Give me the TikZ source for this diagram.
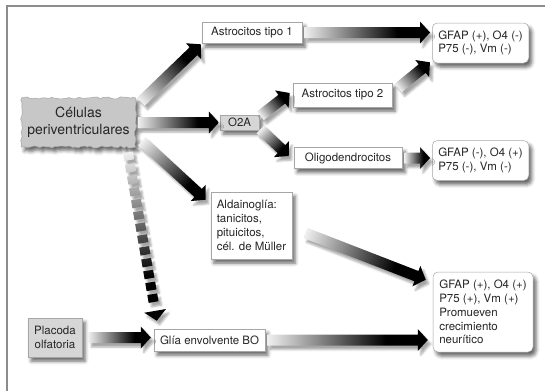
\documentclass[tikz,border=0pt]{standalone}
\usepackage{fontspec}
\setmainfont{TeX Gyre Heros}
\usetikzlibrary{positioning, shadows.blur, decorations.pathmorphing}

% fading shading of the thick arrows
\pgfdeclarehorizontalshading{arrowfade}{100bp}{color(0bp)=(black!6); color(25bp)=(black!6); color(62bp)=(black); color(100bp)=(black)}

% angle, length, shadow offset and dash count of an arrow from #1 to #2
\newcommand{\arrsetup}[2]{%
    \path let \p1=(#1), \p2=(#2) in \pgfextra{%
        \pgfmathsetmacro{\arrang}{atan2(\y2-\y1,\x2-\x1)}%
        \pgfmathsetmacro{\arrlen}{veclen(\x2-\x1,\y2-\y1)}%
        \pgfmathsetmacro{\arrsx}{3*cos(\arrang)-4*sin(\arrang)}%
        \pgfmathsetmacro{\arrsy}{-3*sin(\arrang)-4*cos(\arrang)}%
        \pgfmathtruncatemacro{\arrn}{(\arrlen-20)/12}%
        \pgfmathsetmacro{\arrx}{\x1}%
        \pgfmathsetmacro{\arry}{\y1}%
        \xdef\arrang{\arrang}\xdef\arrlen{\arrlen}\xdef\arrn{\arrn}%
        \xdef\arrsx{\arrsx}\xdef\arrsy{\arrsy}%
        \xdef\arrx{\arrx}\xdef\arry{\arry}};
}

% solid arrow
\newcommand{\gradarrow}[2]{%
    \arrsetup{#1}{#2}%
    \begin{scope}[transform canvas={shift={(\arrx pt,\arry pt)}, rotate=\arrang}]
        \shade[fadearrow] (0pt,-5.5pt) -- ({\arrlen pt-10pt},-5.5pt) -- ({\arrlen pt-10pt},-11pt)
            -- (\arrlen pt,0pt) -- ({\arrlen pt-10pt},11pt) -- ({\arrlen pt-10pt},5.5pt) -- (0pt,5.5pt) -- cycle;
    \end{scope}%
}

% dashed arrow
\newcommand{\dasharrow}[2]{%
    \arrsetup{#1}{#2}%
    \begin{scope}[transform canvas={shift={(\arrx pt,\arry pt)}, rotate=\arrang}]
        \shade[fadearrow] \foreach \k in {0,...,\arrn} {(\k*12pt,-5pt) rectangle ++(8pt,10pt)}
            ({\arrlen pt-10pt},-11pt) -- (\arrlen pt,0pt) -- ({\arrlen pt-10pt},11pt) -- cycle;
    \end{scope}%
}

\tikzset{
    fadearrow/.style={shading=arrowfade,
        blur shadow={shadow xshift=\arrsx pt, shadow yshift=\arrsy pt, shadow blur radius=2pt, shadow opacity=35}}
}

\pgfmathsetseed{7}

\begin{document}
\begin{tikzpicture}[
        x=1pt, y=1pt,
        box/.style={
            draw=black!35,
            fill=white,
            line width=0.5pt,
            text=black!85,
            font=\fontsize{11.5}{13.8}\selectfont,
            inner xsep=6pt,
            inner ysep=3pt,
            blur shadow={shadow xshift=3pt, shadow yshift=-4pt, shadow blur radius=3.5pt, shadow opacity=60}
        },
        roundbox/.style={box, rounded corners=5pt, align=left},
        graybox/.style={box, fill=black!16},
        cellbox/.style={
            box,
            fill=black!22,
            draw=black!35,
            align=center,
            font=\fontsize{14}{17}\selectfont,
            decorate,
            decoration={random steps, segment length=3pt, amplitude=1.1pt}
        },
        frameline/.style={draw=black!45, line width=1.6pt}
    ]
        \useasboundingbox (0,0) rectangle (545,-391);

        % Frame
        \draw[frameline] (7,-391) -- (7,-6) -- (545,-6);

        % Nodes
        \node[cellbox, minimum width=113pt, minimum height=49pt] (cel) at (78.5,-122.5) {Células\\periventriculares};
        \node[graybox, right=84pt of cel, minimum width=39pt, minimum height=15pt, inner sep=1pt] (o2a) {O2A};
        \node[box, minimum width=100pt, minimum height=21pt] (ast1) at (252,-32.5) {Astrocitos tipo 1};
        \node[box, minimum width=99pt, minimum height=24pt] (ast2) at (342.5,-95) {Astrocitos tipo 2};
        \node[box, minimum width=108pt, minimum height=21pt] (oli) at (348,-158) {Oligodendrocitos};
        \node[box, align=left, minimum width=77pt, minimum height=67pt] (ald) at (251.5,-225.5) {Aldainoglía:\\tanicitos,\\pituicitos,\\cél. de Müller};
        \node[roundbox, minimum width=95pt, minimum height=40pt] (gfap1) at (480.5,-43) {GFAP (+), O4 (-)\\P75 (-), Vm (-)};
        \node[roundbox, minimum width=95pt, minimum height=40pt, below=77pt of gfap1] (gfap2) {GFAP (-), O4 (+)\\P75 (-), Vm (-)};
        \node[roundbox, minimum width=100pt, minimum height=80pt] (gfap3) at (483,-312) {GFAP (+), O4 (+)\\P75 (+), Vm (+)\\Promueven\\crecimiento\\neurítico};
        \node[graybox, align=center, minimum width=54pt, minimum height=39pt] (plac) at (55,-337.5) {Placoda\\olfatoria};
        \node[box, minimum width=109pt, minimum height=22pt] (glia) at (209.5,-340) {Glía envolvente BO};

        % Arrows
        \gradarrow{[shift={(5pt,-4pt)}]cel.north east}{[shift={(-1pt,-1pt)}]ast1.south west}
        \gradarrow{[xshift=2pt]cel.east}{[xshift=-1pt]o2a.west}
        \gradarrow{[shift={(6pt,6pt)}]cel.south east}{[shift={(-5pt,-8pt)}]ald.north west}
        \gradarrow{[shift={(1pt,-1pt)}]o2a.north east}{[shift={(-3pt,2pt)}]ast2.west}
        \gradarrow{[shift={(1pt,1pt)}]o2a.south east}{[shift={(-5pt,2pt)}]oli.west}
        \gradarrow{[xshift=2pt]ast1.east}{[xshift=-2pt]gfap1.west |- ast1.east}
        \gradarrow{[shift={(6pt,7pt)}]ast2.east}{[shift={(-2pt,1pt)}]gfap1.south west}
        \gradarrow{[xshift=2pt]oli.east}{[xshift=-2pt]gfap2.west |- oli.east}
        \gradarrow{[shift={(13pt,-7.5pt)}]ald.east}{[shift={(-7pt,-8pt)}]gfap3.north west}
        \gradarrow{[xshift=2pt]glia.east}{[xshift=-5pt]gfap3.west |- glia.east}
        \gradarrow{[xshift=6pt]plac.east}{[xshift=-3pt]glia.west |- plac.east}

        % dashed one down to the olfactory glia
        \dasharrow{[shift={(-8pt,-5pt)}]cel.south east}{[shift={(3pt,8pt)}]glia.north west}
\end{tikzpicture}
\end{document}
